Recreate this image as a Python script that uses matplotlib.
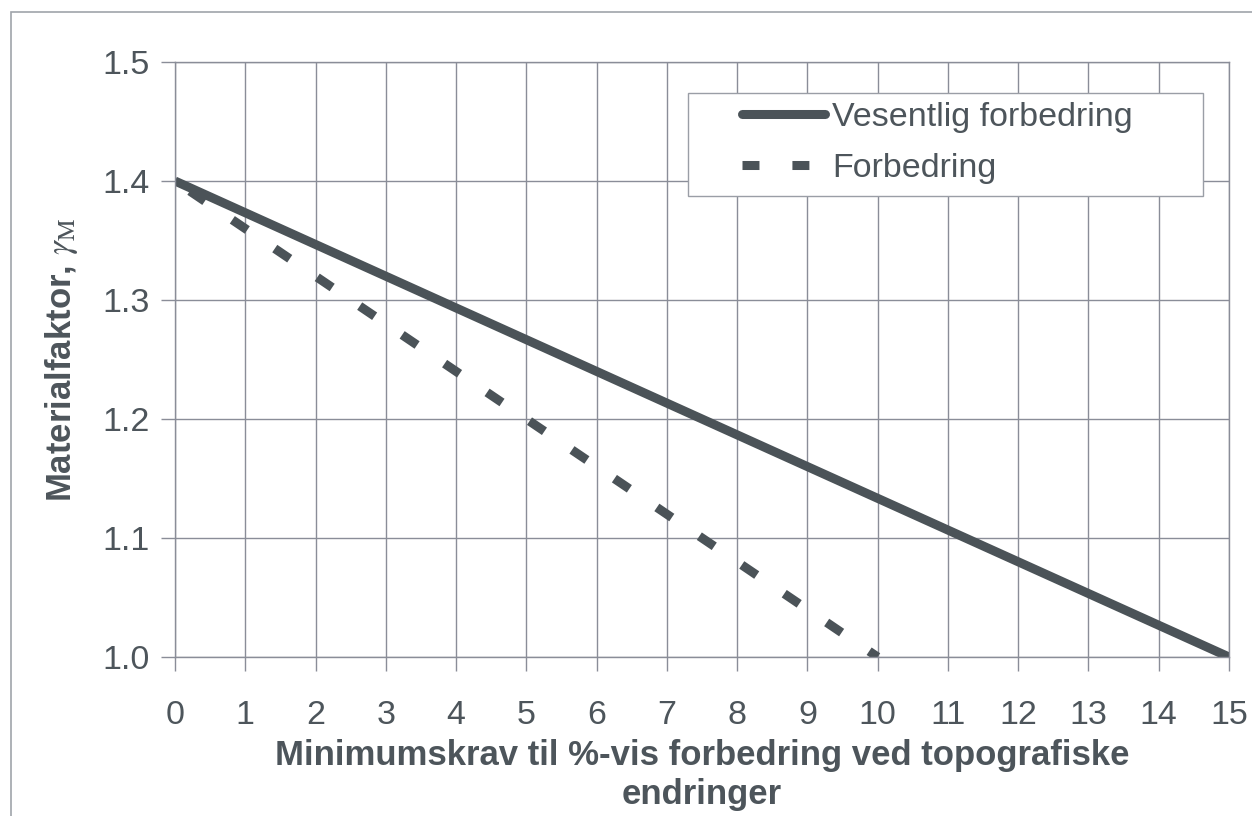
import matplotlib
matplotlib.use('Agg')
import matplotlib.pyplot as plt
from matplotlib.lines import Line2D
from matplotlib.patches import Rectangle

# data
x_vesentlig = [0, 15]
y_vesentlig = [1.4, 1.0]
x_forbedring = [0, 10]
y_forbedring = [1.4, 1.0]

xticks = list(range(0, 16))
yticks = [1.0, 1.1, 1.2, 1.3, 1.4, 1.5]
ytick_labels = ['1.0', '1.1', '1.2', '1.3', '1.4', '1.5']

label_vesentlig = 'Vesentlig forbedring'
label_forbedring = 'Forbedring'
xlabel = 'Minimumskrav til %-vis forbedring ved topografiske\nendringer'
ylabel = r'Materialfaktor, $\gamma_{\mathrm{M}}$'

plt.rcParams['font.family'] = ['Liberation Sans', 'DejaVu Sans']
plt.rcParams['mathtext.fontset'] = 'stix'

line_col = '#4b5358'
text_col = '#4d555b'
grid_col = '#8a8d98'

fig = plt.figure(figsize=(12.52, 8.16), dpi=100)
ax = fig.add_axes([175 / 1252, 1 - 657 / 816, 1054 / 1252, 595 / 816])

lw = 6.5
ax.plot(x_vesentlig, y_vesentlig, color=line_col, lw=lw, solid_capstyle='butt')
ax.plot(x_forbedring, y_forbedring, color=line_col, lw=lw,
        linestyle=(3.69, (2.0, 3.68)), dash_capstyle='butt')

ax.set_xlim(0, 15)
ax.set_ylim(1.0, 1.5)
ax.set_xticks(xticks)
ax.set_yticks(yticks)
ax.set_yticklabels(ytick_labels)
ax.grid(True, color=grid_col, lw=1.0)
ax.set_axisbelow(True)
for s in ax.spines.values():
    s.set_color(grid_col)
    s.set_linewidth(1.0)
ax.tick_params(axis='both', colors=grid_col, length=10, width=1.0,
               labelsize=24.5, labelcolor=text_col)
ax.tick_params(axis='x', pad=21)
ax.tick_params(axis='y', pad=8)

ax.set_xlabel(xlabel, fontsize=25, fontweight='bold', color=text_col,
              linespacing=1.2, labelpad=6)
ax.set_ylabel(ylabel, fontsize=25, fontweight='bold', color=text_col, labelpad=16)

# legend box
ax.add_patch(Rectangle(((688 - 175) / 1054, (657 - 196) / 595),
                       (1203 - 688) / 1054, (196 - 93) / 595,
                       transform=ax.transAxes, facecolor='white',
                       edgecolor='#9a9ea6', lw=1.0, zorder=4))
handles = [
    Line2D([], [], color=line_col, lw=lw, solid_capstyle='round'),
    Line2D([], [], color=line_col, lw=lw, linestyle=(0, (1.88, 3.65)),
           dash_capstyle='butt'),
]
leg = ax.legend(handles, [label_vesentlig, label_forbedring], frameon=False,
                loc='center left', bbox_to_anchor=(0.538, 0.864),
                borderpad=0, borderaxespad=0, fontsize=24.5,
                handlelength=2.45, handletextpad=0.2, labelspacing=0.6)
leg.set_zorder(5)
for t in leg.get_texts():
    t.set_color(text_col)

# outer frame of the original figure
fig.patches.append(Rectangle((11 / 1252, -0.1), 1.2, 1 - 12 / 816 + 0.1,
                             transform=fig.transFigure, facecolor='none',
                             edgecolor='#a0a4aa', lw=1.2))

fig.savefig('out.png', dpi=100)
